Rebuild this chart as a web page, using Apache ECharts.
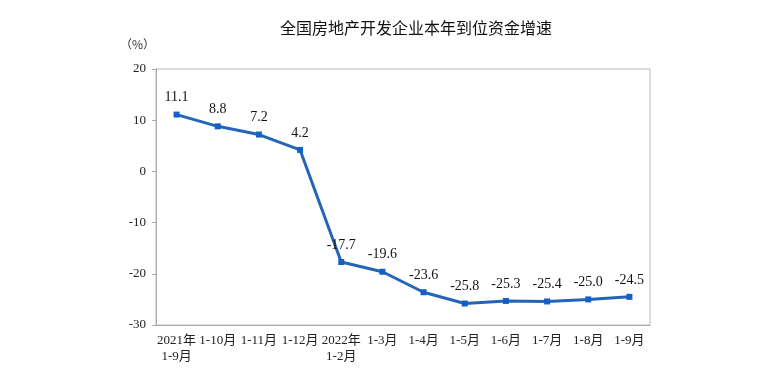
<!DOCTYPE html>
<html><head><meta charset="utf-8">
<script src="https://cdn.jsdelivr.net/npm/echarts@6/dist/echarts.min.js"></script>
<style>html,body{margin:0;padding:0;background:#fff}#c{width:771px;height:372px}</style>
</head><body><div id="c"></div>
<script>
const categories = ["2021年\n1-9月","1-10月","1-11月","1-12月","2022年\n1-2月","1-3月","1-4月","1-5月","1-6月","1-7月","1-8月","1-9月"];
const values = [11.1, 8.8, 7.2, 4.2, -17.7, -19.6, -23.6, -25.8, -25.3, -25.4, -25.0, -24.5];
const yTicks = {min: -30, max: 20, interval: 10};
const titleText = "全国房地产开发企业本年到位资金增速";
const unitText = "（%）";

const chart = echarts.init(document.getElementById('c'));
chart.setOption({
  animation: false,
  backgroundColor: '#fff',
  title: {text: titleText, left: 411, top: 15, textAlign: 'center',
    textStyle: {fontFamily: 'Noto Sans CJK SC', fontSize: 16, fontWeight: 'normal', color: '#111'}},
  graphic: [{type: 'text', left: 120, top: 38, style: {text: unitText, font: '12px "Noto Sans CJK SC"', fill: '#333'}}],
  grid: {left: 156, right: 121, top: 69, bottom: 47, show: true, borderColor: '#bbb', borderWidth: 1},
  xAxis: {type: 'category', data: categories, boundaryGap: true,
    axisLine: {onZero: false, lineStyle: {color: '#aaa'}},
    axisTick: {inside: true, length: 5, lineStyle: {color: '#aaa'}},
    axisLabel: {color: '#222', fontFamily: 'Liberation Serif, Noto Sans CJK SC', fontSize: 13, margin: 8, lineHeight: 16, interval: 0}},
  yAxis: {type: 'value', min: yTicks.min, max: yTicks.max, interval: yTicks.interval,
    splitLine: {show: false},
    axisLine: {show: true, lineStyle: {color: '#aaa'}},
    axisTick: {show: true, length: 4, lineStyle: {color: '#aaa'}},
    axisLabel: {color: '#222', fontFamily: 'Liberation Serif', fontSize: 13, margin: 10}},
  series: [{type: 'line', data: values, symbol: 'rect', symbolSize: 6,
    lineStyle: {color: '#2465b8', width: 3},
    itemStyle: {color: '#1460c4'},
    label: {show: true, position: 'top', distance: 7, color: '#111', fontFamily: 'Liberation Serif', fontSize: 14,
      formatter: p => p.value.toFixed(1)}}]
});
</script></body></html>
